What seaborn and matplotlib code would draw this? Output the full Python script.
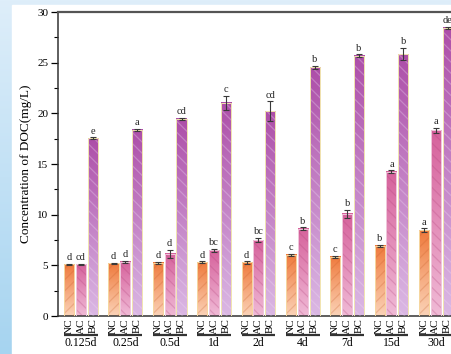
import numpy as np
import pandas as pd
import matplotlib
matplotlib.use("Agg")
import matplotlib.pyplot as plt
import seaborn as sns
from matplotlib.colors import LinearSegmentedColormap
from matplotlib.patches import Rectangle
import matplotlib.transforms as mtransforms

# ---- data ----
times = ["0.125d", "0.25d", "0.5d", "1d", "2d", "4d", "7d", "15d", "30d"]
treatments = ["NC", "AC", "BC"]

nc_mean = [5.10, 5.20, 5.25, 5.30, 5.30, 6.05, 5.85, 6.95, 8.45]
ac_mean = [5.10, 5.35, 6.15, 6.50, 7.50, 8.60, 10.10, 14.25, 18.35]
bc_mean = [17.55, 18.40, 19.45, 21.05, 20.20, 24.55, 25.70, 25.85, 28.45]

nc_err = [0.05, 0.05, 0.08, 0.10, 0.12, 0.10, 0.10, 0.10, 0.20]
ac_err = [0.05, 0.10, 0.40, 0.15, 0.20, 0.15, 0.40, 0.15, 0.25]
bc_err = [0.10, 0.10, 0.10, 0.70, 1.00, 0.15, 0.15, 0.60, 0.10]

nc_sig = ["d", "d", "d", "d", "d", "c", "c", "b", "a"]
ac_sig = ["cd", "d", "d", "bc", "bc", "b", "b", "a", "a"]
bc_sig = ["e", "a", "cd", "c", "cd", "b", "b", "b", "de"]

means = {"NC": nc_mean, "AC": ac_mean, "BC": bc_mean}
errs = {"NC": nc_err, "AC": ac_err, "BC": bc_err}
sigs = {"NC": nc_sig, "AC": ac_sig, "BC": bc_sig}

df = pd.DataFrame(
    [(t, tr, means[tr][i], errs[tr][i], sigs[tr][i])
     for tr in treatments for i, t in enumerate(times)],
    columns=["time", "treatment", "value", "sd", "sig"],
)

# colour ramps (top -> bottom of each bar) and hatch styles
top_col = {"NC": "#ef7a3c", "AC": "#d6629c", "BC": "#ad4ea8"}
bot_col = {"NC": "#fbd3b8", "AC": "#f0bad6", "BC": "#dbb8e4"}
hatch_col = {"NC": "#c8602a40", "AC": "#b0407840", "BC": "#f0dcf450"}
hatches = {"NC": "///", "AC": "\\\\\\", "BC": "\\\\\\"}
edge_col = {"NC": "#f6d7a0", "AC": "#f0c8dc", "BC": "#f2e6b0"}

plt.rcParams["font.family"] = ["Liberation Serif", "DejaVu Serif"]
plt.rcParams["hatch.linewidth"] = 0.9

W, H = 452, 354
fig = plt.figure(figsize=(W / 100, H / 100), dpi=100)

# slide backdrop: pale blue strip on the left/top, white panel
bg = fig.add_axes([0, 0, 1, 1], zorder=-10)
bg.axis("off")
bg.imshow(np.linspace(0, 1, 256)[:, None],
          cmap=LinearSegmentedColormap.from_list("bg", ["#deeefa", "#a6d4f0"]),
          extent=[0, 1, 0, 1], aspect="auto")
bg.add_patch(Rectangle((12 / W, 0), 1, (H - 5) / H, color="white"))
bg.set_xlim(0, 1)
bg.set_ylim(0, 1)

ax = fig.add_axes([58 / W, 38 / H, 400 / W, 304 / H])
ax.set_facecolor("white")

sns.barplot(data=df, x="time", y="value", hue="treatment",
            order=times, hue_order=treatments,
            palette=top_col, width=0.8, gap=0.15,
            errorbar=None, legend=False, ax=ax)

grad = np.linspace(0, 1, 128)[:, None]
tick_pos, tick_lab = [], []
group_span = {}
for tr, cont in zip(treatments, ax.containers):
    cmap = LinearSegmentedColormap.from_list(tr, [top_col[tr], bot_col[tr]])
    for i, bar in enumerate(cont):
        x0, w, h = bar.get_x(), bar.get_width(), bar.get_height()
        xc = x0 + w / 2
        ax.imshow(grad, cmap=cmap, extent=[x0, x0 + w, 0, h],
                  aspect="auto", zorder=2, interpolation="bilinear")
        bar.set_facecolor("none")
        bar.set_edgecolor(hatch_col[tr])
        bar.set_hatch(hatches[tr])
        bar.set_linewidth(0)
        bar.set_zorder(3)
        ax.add_patch(Rectangle((x0, 0), w, h, fill=False,
                               ec=edge_col[tr], lw=0.7, zorder=4))
        e = errs[tr][i]
        ax.errorbar(xc, h, yerr=e, fmt="none", ecolor="#3a3a3a",
                    elinewidth=0.8, capsize=2.2, capthick=0.8, zorder=5)
        ax.text(xc, h + e + 0.15, sigs[tr][i], ha="center", va="bottom",
                fontsize=7.5, color="#222222", zorder=6, clip_on=False)
        tick_pos.append(xc)
        tick_lab.append(tr)
        lo, hi = group_span.get(i, (np.inf, -np.inf))
        group_span[i] = (min(lo, x0), max(hi, x0 + w))

ax.set_xlim(-0.518, 8.5)
ax.set_ylim(0, 30)

ax.set_xticks(tick_pos)
ax.set_xticklabels(tick_lab, rotation=90, fontsize=8)
ax.tick_params(axis="x", length=0, pad=1.5)
ax.set_xlabel("")

ax.set_yticks(np.arange(0, 31, 5))
ax.set_yticks(np.arange(0, 31, 2.5), minor=True)
ax.tick_params(axis="y", which="major", length=5, width=0.9,
               labelsize=8, direction="out", pad=2)
ax.tick_params(axis="y", which="minor", length=3, width=0.8, direction="out")
ax.set_ylabel("Concentration of DOC(mg/L)", fontsize=9.5, labelpad=4)

for side in ["left", "bottom", "top"]:
    ax.spines[side].set_color("#333333")
    ax.spines[side].set_linewidth(1.1)
ax.spines["top"].set_color("#555555")
ax.spines["top"].set_linewidth(1.6)
ax.spines["right"].set_visible(False)

# group underline and time label below the treatment labels
trans = mtransforms.blended_transform_factory(ax.transData, ax.transAxes)
for i, t in enumerate(times):
    lo, hi = group_span[i]
    ax.plot([lo, hi], [-0.061, -0.061], color="#333333", lw=1.6,
            transform=trans, clip_on=False, solid_capstyle="butt")
    ax.text((lo + hi) / 2, -0.089, t, transform=trans, ha="center",
            va="center", fontsize=8.5, clip_on=False)

fig.savefig("out.png", dpi=100)
